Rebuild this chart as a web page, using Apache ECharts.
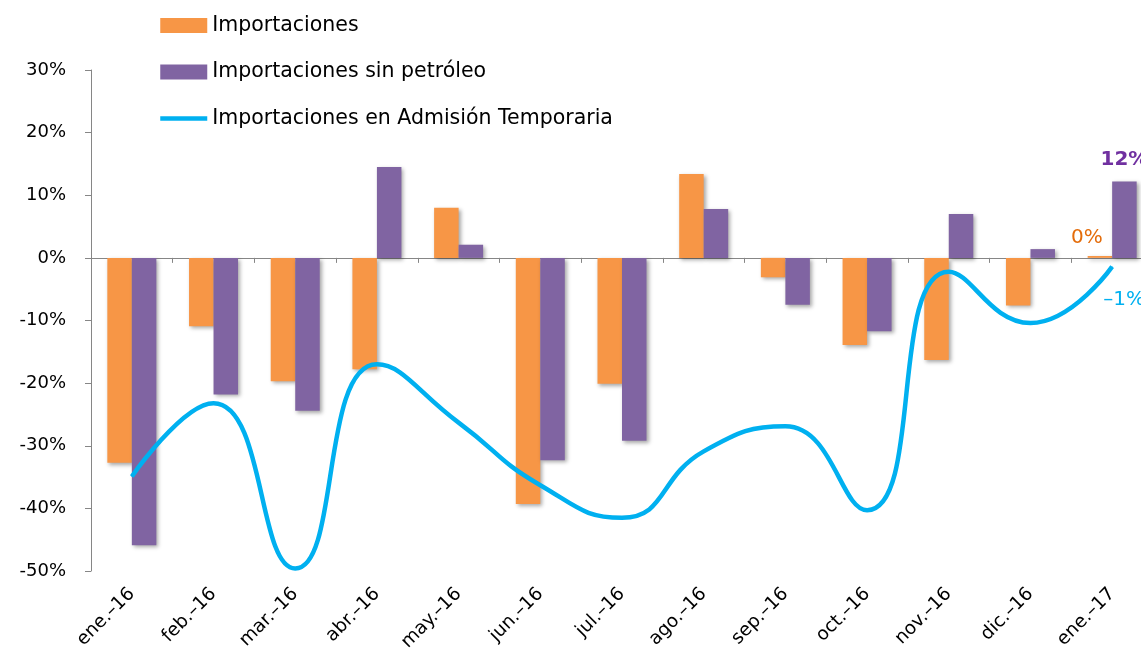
<!DOCTYPE html>
<html>
<head>
<meta charset="utf-8">
<script src="https://cdn.jsdelivr.net/npm/echarts@6/dist/echarts.min.js"></script>
<style>
html,body{margin:0;padding:0;background:#fff;}
#chart{width:1141px;height:654px;}
</style>
</head>
<body>
<div id="chart"></div>
<script>
var categories = ['ene.–16','feb.–16','mar.–16','abr.–16','may.–16','jun.–16','jul.–16','ago.–16','sep.–16','oct.–16','nov.–16','dic.–16','ene.–17'];
var importaciones = [-32.7, -10.9, -19.7, -17.8, 8.0, -39.3, -20.1, 13.4, -3.1, -13.9, -16.3, -7.6, 0.3];
var sinPetroleo = [-45.9, -21.8, -24.4, 14.5, 2.1, -32.3, -29.2, 7.8, -7.5, -11.7, 7.0, 1.4, 12.2];
var admisionTemporaria = [-34.9, -23.2, -49.6, -17.0, -26.3, -36.3, -41.5, -30.9, -26.9, -40.3, -2.2, -10.4, -1.4];
var yTicks = {min: -50, max: 30, interval: 10};

var FONT = 'DejaVu Sans';
function pct(v){ return (Math.round(v) + '%').replace('-', '–'); }
function lastLabel(arr, label){
  return arr.map(function(v, i){
    if (i === arr.length - 1) return {value: v, label: label};
    return v;
  });
}
var shadow = {shadowColor:'rgba(0,0,0,0.35)', shadowBlur:4, shadowOffsetX:2, shadowOffsetY:2};

var chart = echarts.init(document.getElementById('chart'), null, {renderer:'canvas'});
chart.setOption({
  animation: false,
  textStyle: {fontFamily: FONT},
  legend: {
    orient: 'vertical', left: 158, top: 15, padding: 0,
    itemWidth: 47, itemHeight: 15, itemGap: 25.5,
    textStyle: {fontFamily: FONT, fontSize: 20.5, color: '#000', lineHeight: 20},
    data: [
      {name: 'Importaciones', icon: 'rect'},
      {name: 'Importaciones sin petróleo', icon: 'rect'},
      {name: 'Importaciones en Admisión Temporaria', itemStyle: {opacity: 0}, lineStyle: {width: 4.5}}
    ]
  },
  grid: {left: 91, top: 70, width: 1062, bottom: 83, containLabel: false, outerBoundsMode: 'none'},
  xAxis: [{
    type: 'category', data: categories, position: 'top',
    axisLine: {onZero: true, lineStyle: {color: '#868686', width: 1}},
    axisTick: {show: true, inside: true, length: 5, lineStyle: {color: '#868686'}},
    axisLabel: {show: false}
  }, {
    type: 'category', data: categories, position: 'bottom',
    axisLine: {show: false, onZero: false}, axisTick: {show: false},
    axisLabel: {rotate: 45, margin: 20, fontFamily: FONT, fontSize: 18.5, color: '#000'}
  }],
  yAxis: {
    type: 'value', min: yTicks.min, max: yTicks.max, interval: yTicks.interval,
    axisLine: {show: true, lineStyle: {color: '#868686', width: 1}},
    axisTick: {show: true, length: 6, lineStyle: {color: '#868686'}},
    splitLine: {show: false},
    axisLabel: {margin: 25, fontFamily: FONT, fontSize: 18, color: '#000', formatter: function(v){ return v + '%'; }}
  },
  series: [{
    name: 'Importaciones', type: 'bar', xAxisIndex: 0,
    barGap: '0%', barCategoryGap: '40%',
    itemStyle: Object.assign({color: '#F79646'}, shadow),
    data: lastLabel(importaciones, {show: true, position: 'top', distance: 8, offset: [-13, 0], color: '#E46C0A', fontSize: 20, fontFamily: FONT, formatter: function(p){ return pct(p.value); }})
  }, {
    name: 'Importaciones sin petróleo', type: 'bar', xAxisIndex: 0,
    barGap: '0%', barCategoryGap: '40%',
    itemStyle: Object.assign({color: '#8064A2'}, shadow),
    data: lastLabel(sinPetroleo, {show: true, position: 'top', distance: 12, color: '#7030A0', fontSize: 20, fontWeight: 'bold', fontFamily: FONT, formatter: function(p){ return pct(p.value); }})
  }, {
    name: 'Importaciones en Admisión Temporaria', type: 'line', xAxisIndex: 0,
    smooth: 0.5, symbol: 'circle', symbolSize: 1, showSymbol: true, z: 5,
    lineStyle: {color: '#00B0F0', width: 4.5},
    itemStyle: {color: '#00B0F0'},
    data: lastLabel(admisionTemporaria, {show: true, position: 'bottom', distance: 5, offset: [12, 18], color: '#00B0F0', fontSize: 20, fontFamily: FONT, formatter: function(p){ return pct(p.value); }})
  }]
});
</script>
</body>
</html>
